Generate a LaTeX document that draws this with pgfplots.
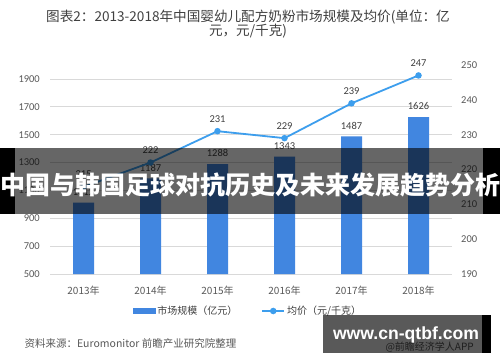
\documentclass[border=0pt]{standalone}
\usepackage{fontspec}
\usepackage{pgfplots}
\pgfplotsset{compat=1.18}
\setmainfont{Carlito}
\newfontfamily\cjk{Noto Sans CJK SC}
\newfontfamily\wmfont{Liberation Sans}
\definecolor{barblue}{RGB}{65,134,224}
\definecolor{lineblue}{RGB}{61,158,237}
\definecolor{gridgray}{RGB}{217,217,217}
\definecolor{ticktext}{RGB}{89,89,89}
\definecolor{labtext}{RGB}{64,64,64}
\pgfplotsset{linelegend/.style={legend image code/.code={\draw[mark repeat=2,mark phase=2,##1] plot coordinates {(0pt,0pt) (11pt,0pt) (22pt,0pt)};}}}
\begin{document}
\begin{tikzpicture}[x=1pt,y=1pt]
\fill[white] (0,0) rectangle (500,362);
\useasboundingbox (0,0) rectangle (500,362);
% title
\node[font=\cjk\fontsize{13.6}{15}\selectfont, text=labtext] at (248,362-17) {图表2：2013-2018年中国婴幼儿配方奶粉市场规模及均价(单位：亿};
\node[font=\cjk\fontsize{13.6}{15}\selectfont, text=labtext] at (248,362-31) {元，元/千克)};
% bar axis
\begin{axis}[
  at={(50pt,88pt)}, anchor=south west,
  width=402pt, height=209pt, scale only axis,
  xmin=-0.5, xmax=5.5, ymin=500, ymax=2000,
  xtick={0,1,2,3,4,5},
  xticklabels={2013年,2014年,2015年,2016年,2017年,2018年},
  ytick={500,700,900,1100,1300,1500,1700,1900},
  axis line style={draw=none},
  tick style={draw=none},
  ymajorgrids, grid style={gridgray, line width=0.8pt},
  xticklabel style={font=\cjk\fontsize{10}{12}\selectfont, text=ticktext, inner sep=0pt, yshift=-8pt},
  yticklabel style={font=\fontsize{10.5}{12}\selectfont, text=ticktext, inner sep=0pt, xshift=-10pt},
  /pgf/number format/assume math mode=true,
  /pgf/number format/1000 sep={},
  ybar, bar width=21pt,
  nodes near coords,
  every node near coord/.append style={font=\fontsize{10.5}{12}\selectfont, text=labtext, inner sep=0pt, yshift=7pt},
]
\addplot[fill=barblue, draw=none] coordinates {(0,1012) (1,1187) (2,1288) (3,1343) (4,1487) (5,1626)};
\end{axis}
% price axis
\begin{axis}[
  at={(50pt,88pt)}, anchor=south west,
  width=402pt, height=209pt, scale only axis,
  xmin=-0.5, xmax=5.5, ymin=190, ymax=250,
  axis y line*=right, axis x line=none,
  ytick={190,200,210,220,230,240,250},
  xtick=\empty,
  axis line style={draw=none},
  tick style={draw=none},
  yticklabel style={font=\fontsize{10.5}{12}\selectfont, text=ticktext, inner sep=0pt, xshift=9pt},
  /pgf/number format/assume math mode=true,
  nodes near coords,
  every node near coord/.append style={font=\fontsize{10.5}{12}\selectfont, text=labtext, inner sep=0pt, yshift=8pt},
  legend columns=2,
  legend style={at={(0.4925,-0.177)}, anchor=center, draw=none, fill=none,
    font=\cjk\fontsize{10}{12}\selectfont, text=labtext,
    /tikz/every even column/.append style={column sep=22pt}},
]
\addlegendimage{legend image code/.code={\fill[barblue] (0pt,-2.5pt) rectangle (22pt,2.5pt);}}
\addlegendentry{市场规模（亿元）}
\addplot[lineblue, line width=1.8pt, mark=*, mark size=2.3pt, mark options={fill=lineblue, draw=lineblue}, linelegend]
  coordinates {(0,215) (1,222) (2,231) (3,229) (4,239) (5,247)};
\addlegendentry{均价（元/千克）}
\end{axis}
% source
\node[font=\cjk\fontsize{10.5}{12}\selectfont, text=ticktext, anchor=west] at (21,362-344) {资料来源：Euromonitor 前瞻产业研究院整理};
% banner
\fill[black] (0,362-148) rectangle (15,362-214);
\fill[black] (483,362-148) rectangle (500,362-214);
\fill[black, opacity=0.6] (15,362-148) rectangle (483,362-214);
\node[font=\cjk\bfseries\fontsize{25}{26}\selectfont, text=white] at (250,362-185) {中国与韩国足球对抗历史及未来发展趋势分析};
% watermark box
\node[font=\cjk\fontsize{10}{12}\selectfont, text=ticktext, anchor=west] at (382,362-347) {@前瞻经济学人APP};
\fill[black, opacity=0.65] (323,362-315) rectangle (482,362-353);
\fill[black] (482,362-315) rectangle (491,362-353);
\node[font=\wmfont\bfseries\fontsize{17.6}{20}\selectfont, text=white] at (406,362-335) {www.cn-qtbf.com};
\end{tikzpicture}
\end{document}
